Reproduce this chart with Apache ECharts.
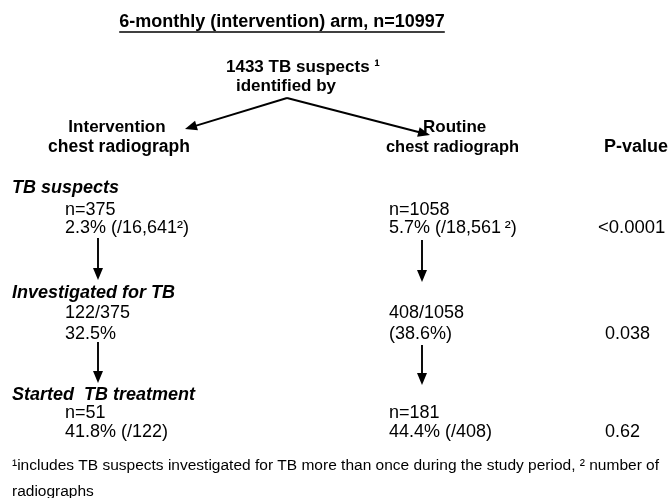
<!DOCTYPE html>
<html>
<head>
<meta charset="utf-8">
<script src="https://cdn.jsdelivr.net/npm/echarts@6/dist/echarts.min.js"></script>
<style>
html,body{margin:0;padding:0;background:#fff;}
#chart{width:670px;height:498px;}
</style>
</head>
<body>
<div id="chart"></div>
<script>
// ---- data ----
const armTitle = '6-monthly (intervention) arm, n=10997';
const totalSuspects = 1433;
const armNames = ['Intervention', 'Routine'];
const stageNames = ['TB suspects', 'Investigated for TB', 'Started  TB treatment'];
// intervention arm
const intvCounts = [375, 122, 51];
const intvDenoms = [16641, 375, 122];
const intvPct = [2.3, 32.5, 41.8];
// routine arm
const routCounts = [1058, 408, 181];
const routDenoms = [18561, 1058, 408];
const routPct = [5.7, 38.6, 44.4];
const pValues = ['<0.0001', '0.038', '0.62'];
const footnote1 = '\u00B9includes TB suspects investigated for TB more than once during the study period, \u00B2 number of';
const footnote2 = 'radiographs';

// ---- layout (not data) ----
const FF = '"Liberation Sans", Arial, Helvetica, sans-serif';
const colIntv = 65, colRout = 389;
const rowY = [[210, 228], [313, 334], [413, 432]];
const stageY = [188, 293, 395];
const pX = [598, 605, 605];
const arrowX = [98, 422];
const arrowSeg = [[[238, 280], [342, 383]], [[240, 282], [345, 385]]];

const fmt = n => n.toLocaleString('en-US');

function intvLines(i) {
  if (i === 0) return ['n=' + intvCounts[0], intvPct[0] + '% (/' + fmt(intvDenoms[0]) + '\u00B2)'];
  if (i === 1) return [intvCounts[1] + '/' + intvDenoms[1], intvPct[1] + '%'];
  return ['n=' + intvCounts[2], intvPct[2] + '% (/' + intvDenoms[2] + ')'];
}
function routLines(i) {
  if (i === 0) return ['n=' + routCounts[0], routPct[0] + '% (/' + fmt(routDenoms[0]) + '\u2009\u00B2)'];
  if (i === 1) return [routCounts[1] + '/' + routDenoms[1], '(' + routPct[1] + '%)'];
  return ['n=' + routCounts[2], routPct[2] + '% (/' + routDenoms[2] + ')'];
}

function txt(text, x, y, opt) {
  opt = opt || {};
  return {
    type: 'text', x: x, y: y, silent: true,
    style: {
      text: text,
      fill: '#000',
      fontFamily: FF,
      fontSize: opt.size || 18,
      fontWeight: opt.bold ? 'bold' : 'normal',
      fontStyle: opt.italic ? 'italic' : 'normal',
      textAlign: opt.align || 'left',
      textVerticalAlign: 'middle'
    }
  };
}
function arrow(x1, y1, x2, y2) {
  const len = 12, half = 5;
  const dx = x2 - x1, dy = y2 - y1, d = Math.sqrt(dx * dx + dy * dy);
  const ux = dx / d, uy = dy / d;
  const bx = x2 - ux * len, by = y2 - uy * len;
  return [
    { type: 'line', silent: true, shape: { x1: x1, y1: y1, x2: bx + ux * 2, y2: by + uy * 2 }, style: { stroke: '#000', lineWidth: 1.9 } },
    { type: 'polygon', silent: true, shape: { points: [[x2, y2], [bx - uy * half, by + ux * half], [bx + uy * half, by - ux * half]] }, style: { fill: '#000' } }
  ];
}

const g = [];
// title with underline
g.push(txt(armTitle, 282, 22, { bold: true, size: 18, align: 'center' }));
const cv = document.createElement('canvas').getContext('2d');
cv.font = 'bold 18px ' + FF;
const tw = cv.measureText(armTitle).width;
g.push({ type: 'line', silent: true, shape: { x1: 282 - tw / 2, y1: 32, x2: 282 + tw / 2, y2: 32 }, style: { stroke: '#000', lineWidth: 1.5 } });

g.push(txt(totalSuspects + ' TB suspects \u00B9', 226, 67, { bold: true, size: 17 }));
g.push(txt('identified by', 286, 86, { bold: true, size: 17, align: 'center' }));

// split arrows
arrow(287, 98, 185, 129).forEach(e => g.push(e));
arrow(287, 98, 430, 135).forEach(e => g.push(e));

// arm headers
g.push(txt(armNames[0], 117, 127, { bold: true, size: 17, align: 'center' }));
g.push(txt('chest radiograph', 119, 147, { bold: true, size: 17.5, align: 'center' }));
g.push(txt(armNames[1], 423, 127, { bold: true, size: 17 }));
g.push(txt('chest radiograph', 386, 147, { bold: true, size: 16.4 }));
g.push(txt('P-value', 604, 147, { bold: true, size: 18 }));

// stages
stageNames.forEach((s, i) => {
  g.push(txt(s, 12, stageY[i], { bold: true, italic: true }));
  const a = intvLines(i), b = routLines(i);
  g.push(txt(a[0], colIntv, rowY[i][0]));
  g.push(txt(a[1], colIntv, rowY[i][1]));
  g.push(txt(b[0], colRout, rowY[i][0]));
  g.push(txt(b[1], colRout, rowY[i][1]));
  g.push(txt(pValues[i], pX[i], rowY[i][1], i === 0 ? { size: 18.5 } : {}));
});

// down arrows
arrowX.forEach((x, k) => {
  arrowSeg[k].forEach(seg => arrow(x, seg[0], x, seg[1]).forEach(e => g.push(e)));
});

// footnote
g.push(txt(footnote1, 12, 466, { size: 15.5 }));
g.push(txt(footnote2, 12, 492, { size: 15.5 }));

const chart = echarts.init(document.getElementById('chart'), null, { renderer: 'canvas' });
chart.setOption({ backgroundColor: '#fff', animation: false, graphic: g });
</script>
</body>
</html>
